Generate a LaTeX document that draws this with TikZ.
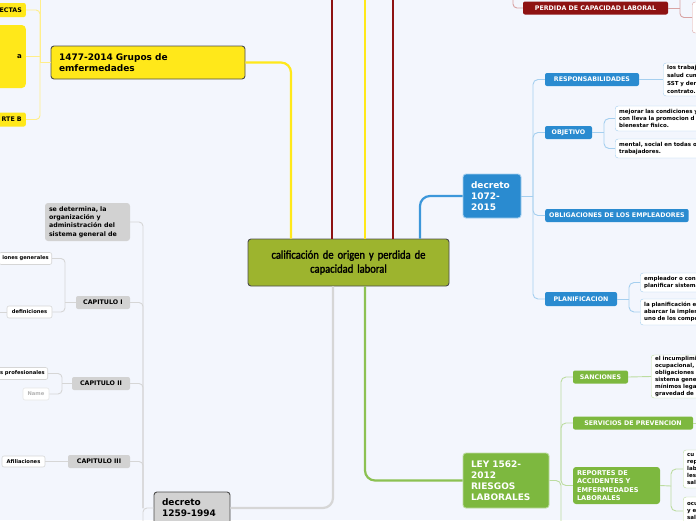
\documentclass[tikz,border=0pt]{standalone}
\usepackage{fontspec}
\setmainfont{DejaVu Sans}
\newfontfamily\titlefont{Carlito}[FakeStretch=0.88,FakeBold=1.6]
\definecolor{bgc}{HTML}{F3F6FD}
\definecolor{olivem}{HTML}{9DB42E}
\definecolor{yellowm}{HTML}{FFE81A}
\definecolor{ythinc}{HTML}{FFEE8A}
\definecolor{redm}{HTML}{8E1212}
\definecolor{rthinc}{HTML}{D8A3A3}
\definecolor{bluem}{HTML}{2A8BD0}
\definecolor{blinec}{HTML}{3C97DA}
\definecolor{bthinc}{HTML}{A5CFEF}
\definecolor{greenm}{HTML}{7DB83F}
\definecolor{glinec}{HTML}{8CC152}
\definecolor{gthinc}{HTML}{BCDCA0}
\definecolor{greym}{HTML}{D2D2D2}
\definecolor{grthinc}{HTML}{D6D6D6}
\begin{document}
\begin{tikzpicture}[x=1pt,y=-1pt,
    big/.style={draw=black!70,line width=0.9pt,rounded corners=3pt,align=left,inner xsep=8pt,inner ysep=0pt,font=\bfseries\fontsize{9}{11}\selectfont},
    tag/.style={rounded corners=2pt,inner sep=0pt,font=\bfseries\fontsize{6.3}{8}\selectfont},
    wtag/.style={tag,fill=white,draw=grthinc,line width=0.6pt,minimum height=12pt,font=\bfseries\fontsize{5.2}{6}\selectfont},
    note/.style={fill=white,rounded corners=3pt,inner xsep=4pt,inner ysep=0pt,align=left,anchor=west,font=\bfseries\fontsize{5.5}{7.2}\selectfont},
    yline/.style={draw=yellowm,line width=2.2pt},
    rline/.style={draw=redm,line width=2.2pt},
    bline/.style={draw=blinec,line width=2.2pt},
    gline/.style={draw=glinec,line width=2.2pt},
    grline/.style={draw=grthinc,line width=2.2pt},
    ythin/.style={draw=ythinc,line width=0.9pt,rounded corners=4pt},
    rthin/.style={draw=rthinc,line width=0.9pt,rounded corners=4pt},
    bthin/.style={draw=bthinc,line width=0.9pt,rounded corners=5pt},
    gthin/.style={draw=gthinc,line width=0.9pt,rounded corners=5pt},
    grthin/.style={draw=grthinc,line width=0.9pt,rounded corners=4pt}]
    \fill[bgc] (0,0) rectangle (696,520);
    \useasboundingbox (0,0) rectangle (696,520);

    % centre
    \node[big,fill=olivem,align=center,text width=185pt,minimum width=197pt,minimum height=47pt,
          font=\titlefont\fontsize{12}{14}\selectfont] (calif) at (348.5,262.5) {calificación de origen y perdida de\\capacidad laboral};

    % yellow branch
    \node[big,fill=yellowm,text width=178pt,minimum height=33pt] (y1477) at (148,62.5) {1477-2014 Grupos de\\emfermedades};
    \node[tag,fill=yellowm,anchor=east,minimum height=14pt,inner xsep=4pt] (yectas) at (26,10) {ECTAS};
    \node[tag,fill=yellowm,anchor=east,minimum width=70pt,minimum height=63pt,text width=62pt,align=right,rounded corners=4pt,
          font=\bfseries\fontsize{7}{9}\selectfont] (yblock) at (26,56.5) {a\hspace*{14pt}};
    \node[tag,fill=yellowm,anchor=east,minimum height=14pt,inner xsep=4pt] (yrteb) at (26,119.5) {RTE B};

    % grey branch
    \node[big,fill=greym,text width=60pt,minimum height=32pt] (d1259) at (192,508) {decreto\\1259-1994};
    \node[tag,fill=greym,align=left,text width=77pt,minimum width=85pt,minimum height=38pt,rounded corners=3pt,
          font=\bfseries\fontsize{6.3}{8.3}\selectfont] (gsedet) at (87.5,222) {se determina, la\\organización y\\administración del\\sistema general de};
    \node[tag,fill=greym,minimum width=54pt,minimum height=13pt] (cap1) at (103,302.5) {CAPITULO I};
    \node[tag,fill=greym,minimum width=58pt,minimum height=13pt] (cap2) at (101,383.5) {CAPITULO II};
    \node[tag,fill=greym,minimum width=62pt,minimum height=13pt] (cap3) at (99,461.5) {CAPITULO III};
    \node[wtag,anchor=east,inner xsep=3pt] (genr) at (52,258.5) {iones generales};
    \node[wtag,minimum width=45pt] (defin) at (29.5,312) {definiciones};
    \node[wtag,anchor=east,inner xsep=3pt] (prof) at (48,373.5) {s profesionales};
    \node[wtag,draw=grthinc!60,text=black!30,minimum width=26pt] (gname) at (36,394) {Name};
    \node[wtag,minimum width=43pt,minimum height=11pt] (afil) at (23.5,461.5) {Afiliaciones};

    % blue branch
    \node[big,fill=bluem,draw=bthinc,text=white,text width=42pt,minimum height=44pt] (d1072) at (492,196) {decreto\\1072-\\2015};
    \node[tag,fill=bluem,text=white,minimum width=94pt,minimum height=13pt] (resp) at (592,79.5) {RESPONSABILIDADES};
    \node[tag,fill=bluem,text=white,minimum width=47pt,minimum height=13pt] (obj) at (568.5,132.5) {OBJETIVO};
    \node[tag,fill=bluem,text=white,anchor=west,inner xsep=4pt,minimum height=13pt] (oblig) at (545,215.5) {OBLIGACIONES DE LOS EMPLEADORES};
    \node[tag,fill=bluem,text=white,minimum width=72pt,minimum height=14pt] (plan) at (581,299) {PLANIFICACION};
    \node[note,draw=bthinc,text width=62pt,minimum height=33pt,font=\bfseries\fontsize{5.5}{7.8}\selectfont] (respn) at (663,79.5) {los trabaj\\salud cum\\SST y den\\contrato.};
    \node[note,draw=bthinc,text width=90pt,minimum height=25pt] (obj1) at (615,118.5) {mejorar las condiciones y\\con lleva la promocion d\\bienestar fisico.};
    \node[note,draw=bthinc,text width=90pt,minimum height=19pt] (obj2) at (615,148.5) {mental, social en todas o\\trabajadores.};
    \node[note,draw=bthinc,text width=70pt,minimum height=19pt] (plan1) at (640,282.5) {empleador o con\\planificar sistema};
    \node[note,draw=bthinc,text width=70pt,minimum height=26pt] (plan2) at (640,312) {la planificación e\\abarcar la implem\\uno de los compo};

    % red branch
    \node[tag,fill=redm,text=white,minimum width=145pt,minimum height=13pt] (perd) at (595.5,8) {PERDIDA DE CAPACIDAD LABORAL};
    \node[note,draw=rthinc,text width=40pt,minimum height=31pt] (rbox) at (692,17.5) {};

    % green branch
    \node[big,fill=greenm,draw=gthinc,text=white,text width=70pt,minimum height=55pt] (ley) at (506,480.5) {LEY 1562-\\2012\\RIESGOS\\LABORALES};
    \node[tag,fill=greenm,text=white,minimum width=55pt,minimum height=13pt] (sanc) at (600.5,377) {SANCIONES};
    \node[tag,fill=greenm,text=white,minimum width=120pt,minimum height=13pt] (serv) at (633,423) {SERVICIOS DE PREVENCION};
    \node[tag,fill=greenm,text=white,align=left,text width=79pt,minimum width=87pt,minimum height=37pt,rounded corners=3pt,
          font=\bfseries\fontsize{6.6}{8.4}\selectfont] (rep) at (616.5,485.5) {REPORTES DE\\ACCIDENTES Y\\EMFERMEDADES\\LABORALES};
    \node[note,draw=gthinc,text width=60pt,minimum height=43pt,font=\bfseries\fontsize{5.5}{6.9}\selectfont] (sancn) at (651,376.5) {el incumplimi\\ocupacional,\\obligaciones\\sistema gene\\mínimos lega\\gravedad de l};
    \node[note,draw=gthinc,text width=30pt,minimum height=38pt,font=\bfseries\fontsize{5.5}{6.9}\selectfont] (rep1) at (683,469) {cu\\rep\\lab\\les\\sal};
    \node[note,draw=gthinc,text width=30pt,minimum height=28pt] (rep2) at (683,511) {ocu\\y e\\sal};

    % main connectors
    \coordinate (rA) at (332,-5);
    \coordinate (yB) at (365,-5);
    \coordinate (rC) at (393,-5);
    \draw[yline,rounded corners=10pt] (y1477.east) -| ([xshift=-57.5pt]calif.north);
    \draw[rline] (calif.north -| rA) -- (rA);
    \draw[yline] (calif.north -| yB) -- (yB);
    \draw[rline] (calif.north -| rC) -- (rC);
    \draw[bline,rounded corners=10pt] ([xshift=71.5pt]calif.north) |- (d1072.west);
    \draw[grline,rounded corners=10pt] ([xshift=-15.5pt]calif.south) |- (d1259.east);
    \draw[gline,rounded corners=10pt] ([xshift=16.5pt]calif.south) |- (ley.west);

    % yellow children
    \coordinate (yj) at (40,62.5);
    \coordinate (ytop) at (40,-5);
    \draw[ythin] (y1477.west) -- (yj);
    \draw[ythin] (ytop) -- (yj);
    \draw[ythin] (yectas.east) -| (yj);
    \draw[ythin] (yblock.east) -- (yblock.east -| yj);
    \draw[ythin] (yrteb.east) -| (yj);

    % grey children
    \coordinate (gj) at (143,508);
    \coordinate (gbot) at (143,530);
    \draw[grthin] (d1259.west) -- (gj) -- (gbot);
    \foreach \c in {gsedet,cap1,cap2,cap3}
        \draw[grthin] (\c.east) -| (gj);
    \coordinate (c1j) at (65,302.5);
    \draw[grthin] (cap1.west) -- (c1j);
    \draw[grthin] (genr.east) -| (c1j);
    \draw[grthin] (defin.east) -| (c1j);
    \coordinate (dleft) at (-5,312);
    \draw[grthin] (dleft) -- (defin.west);
    \coordinate (c2j) at (62,383.5);
    \draw[grthin] (cap2.west) -- (c2j);
    \draw[grthin] (prof.east) -| (c2j);
    \draw[grthin] (gname.east) -| (c2j);
    \draw[grthin] (afil.east) -- (cap3.west);

    % blue children
    \coordinate (bj) at (533,196);
    \draw[bthin] (d1072.east) -- (bj);
    \foreach \c in {resp,obj,oblig,plan}
        \draw[bthin] (\c.west) -| (bj);
    \draw[bthin] (resp.east) -- (respn.west);
    \coordinate (oj) at (604,132.5);
    \draw[bthin] (obj.east) -- (oj);
    \draw[bthin] (obj1.west) -| (oj);
    \draw[bthin] (obj2.west) -| (oj);
    \coordinate (pj) at (629,299);
    \draw[bthin] (plan.east) -- (pj);
    \draw[bthin] (plan1.west) -| (pj);
    \draw[bthin] (plan2.west) -| (pj);

    % red children
    \coordinate (rtl) at (513,-5);
    \coordinate (rj) at (680,8);
    \coordinate (rtr) at (680,-5);
    \draw[rthin] (perd.west) -| (rtl);
    \draw[rthin] (perd.east) -- (rj);
    \draw[rthin] (rtr) |- (rbox.west);

    % green children
    \coordinate (lj) at (561,480.5);
    \coordinate (lbot) at (561,530);
    \draw[gthin] (ley.east) -- (lj) -- (lbot);
    \foreach \c in {sanc,serv,rep}
        \draw[gthin] (\c.west) -| (lj);
    \draw[gthin] (sanc.east) -- (sancn.west);
    \coordinate (sright) at (705,423);
    \draw[gthin] (serv.east) -- (sright);
    \coordinate (rpj) at (671,486);
    \draw[gthin] (rep.east) -- (rpj);
    \draw[gthin] (rep1.west) -| (rpj);
    \draw[gthin] (rep2.west) -| (rpj);
\end{tikzpicture}
\end{document}
